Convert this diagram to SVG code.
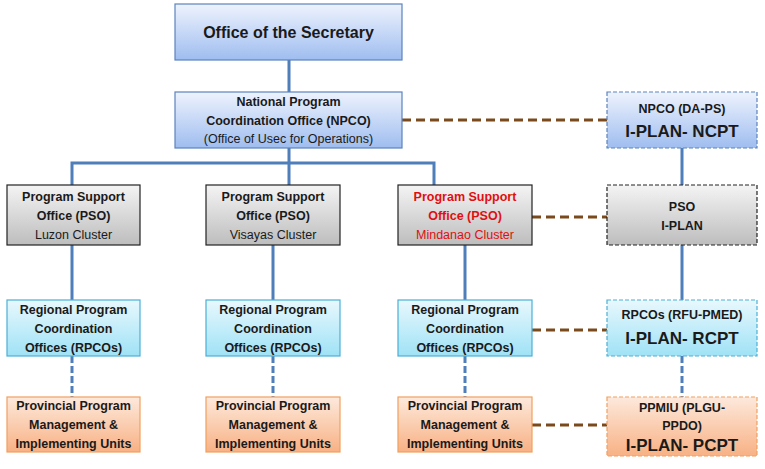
<svg xmlns="http://www.w3.org/2000/svg" width="765" height="469" viewBox="0 0 765 469">
<defs>
<linearGradient id="gb" x1="0" y1="0" x2="0" y2="1"><stop offset="0" stop-color="#eef3fd"/><stop offset="1" stop-color="#9fbdf0"/></linearGradient>
<linearGradient id="gg" x1="0" y1="0" x2="0" y2="1"><stop offset="0" stop-color="#f4f4f4"/><stop offset="1" stop-color="#bdbdbd"/></linearGradient>
<linearGradient id="gc" x1="0" y1="0" x2="0" y2="1"><stop offset="0" stop-color="#e8f8fd"/><stop offset="1" stop-color="#9fe2f6"/></linearGradient>
<linearGradient id="go" x1="0" y1="0" x2="0" y2="1"><stop offset="0" stop-color="#fde9dc"/><stop offset="1" stop-color="#f8b184"/></linearGradient>
</defs>
<style>
text{font-family:"Liberation Sans Narrow","Liberation Sans",Arial,sans-serif;font-size:12.5px;fill:#1a1a1a;text-anchor:middle}
.b{font-weight:bold}
.big{font-size:17px;font-weight:bold}
.r{fill:#e01010}
.blue{fill:url(#gb);stroke:#5b83bd;stroke-width:1.2}
.gray{fill:url(#gg);stroke:#222;stroke-width:1.2}
.cyan{fill:url(#gc);stroke:#4bb0d6;stroke-width:1.2}
.or{fill:url(#go);stroke:#f0a060;stroke-width:1.2}
.d{stroke-dasharray:4 2}
.ln{stroke:#4f7fba;stroke-width:3;fill:none}
.lnd{stroke:#4f7fba;stroke-width:3;fill:none;stroke-dasharray:7 3}
.br{stroke:#7a4a1c;stroke-width:3;fill:none;stroke-dasharray:9 5}
</style>
<g id="connectors">
<path class="ln" d="M289 60V92M289 148V185M72 185V163H434V185M682 148V185M682 245V300"/>
<path class="ln" d="M72 245V300M273 245V300M465 245V300"/>
<path class="lnd" d="M72 356V397M273 356V397M465 356V397M682 356V397"/>
<path class="br" d="M402 120H607M532 217H607M532 330H607M532 425H607"/>
</g>
<g id="sec"><rect class="blue" x="175" y="4" width="227" height="56"/><text x="288.5" y="38" class="b" style="font-size:16px">Office of the Secretary</text></g>
<g id="npco"><rect class="blue" x="175" y="92" width="227" height="56"/><text x="288.5" y="106" class="b">National Program</text><text x="288.5" y="125" class="b">Coordination Office  (NPCO)</text><text x="288.5" y="143">(Office of Usec for Operations)</text></g>
<g id="npco-r"><rect class="blue d" x="607" y="92" width="150" height="56"/><text x="682" y="113" class="b">NPCO (DA-PS)</text><text x="682" y="137" class="big">I-PLAN- NCPT</text></g>
<g id="pso1"><rect class="gray" x="7" y="185" width="133" height="60"/><text x="73.5" y="201" class="b">Program Support</text><text x="73.5" y="220" class="b">Office (PSO)</text><text x="73.5" y="239">Luzon  Cluster</text></g>
<g id="pso2"><rect class="gray" x="206" y="185" width="134" height="60"/><text x="273" y="201" class="b">Program Support</text><text x="273" y="220" class="b">Office (PSO)</text><text x="273" y="239">Visayas Cluster</text></g>
<g id="pso3"><rect class="gray" x="398" y="185" width="134" height="60"/><text x="465" y="201" class="b r">Program Support</text><text x="465" y="220" class="b r">Office (PSO)</text><text x="465" y="239" class="r">Mindanao Cluster</text></g>
<g id="pso-r"><rect class="gray d" x="607" y="185" width="150" height="60"/><text x="682" y="211" class="b">PSO</text><text x="682" y="230" class="b">I-PLAN</text></g>
<g id="rpco1"><rect class="cyan" x="7" y="300" width="133" height="56"/><text x="73.5" y="314" class="b">Regional Program</text><text x="73.5" y="333" class="b">Coordination</text><text x="73.5" y="352" class="b">Offices (RPCOs)</text></g>
<g id="rpco2"><rect class="cyan" x="206" y="300" width="134" height="56"/><text x="273" y="314" class="b">Regional Program</text><text x="273" y="333" class="b">Coordination</text><text x="273" y="352" class="b">Offices (RPCOs)</text></g>
<g id="rpco3"><rect class="cyan" x="398" y="300" width="134" height="56"/><text x="465" y="314" class="b">Regional Program</text><text x="465" y="333" class="b">Coordination</text><text x="465" y="352" class="b">Offices (RPCOs)</text></g>
<g id="rpco-r"><rect class="cyan d" x="607" y="300" width="150" height="56"/><text x="682" y="319" class="b">RPCOs (RFU-PMED)</text><text x="682" y="344" class="big">I-PLAN- RCPT</text></g>
<g id="ppmiu1"><rect class="or" x="7" y="397" width="133" height="55"/><text x="73.5" y="410" class="b">Provincial Program</text><text x="73.5" y="429" class="b">Management &amp;</text><text x="73.5" y="448" class="b">Implementing Units</text></g>
<g id="ppmiu2"><rect class="or" x="206" y="397" width="134" height="55"/><text x="273" y="410" class="b">Provincial Program</text><text x="273" y="429" class="b">Management &amp;</text><text x="273" y="448" class="b">Implementing Units</text></g>
<g id="ppmiu3"><rect class="or" x="398" y="397" width="134" height="55"/><text x="465" y="410" class="b">Provincial Program</text><text x="465" y="429" class="b">Management &amp;</text><text x="465" y="448" class="b">Implementing Units</text></g>
<g id="ppmiu-r"><rect class="or d" x="607" y="397" width="150" height="59"/><text x="682" y="412" class="b">PPMIU (PLGU-</text><text x="682" y="430" class="b">PPDO)</text><text x="682" y="451" class="big">I-PLAN- PCPT</text></g>
</svg>
